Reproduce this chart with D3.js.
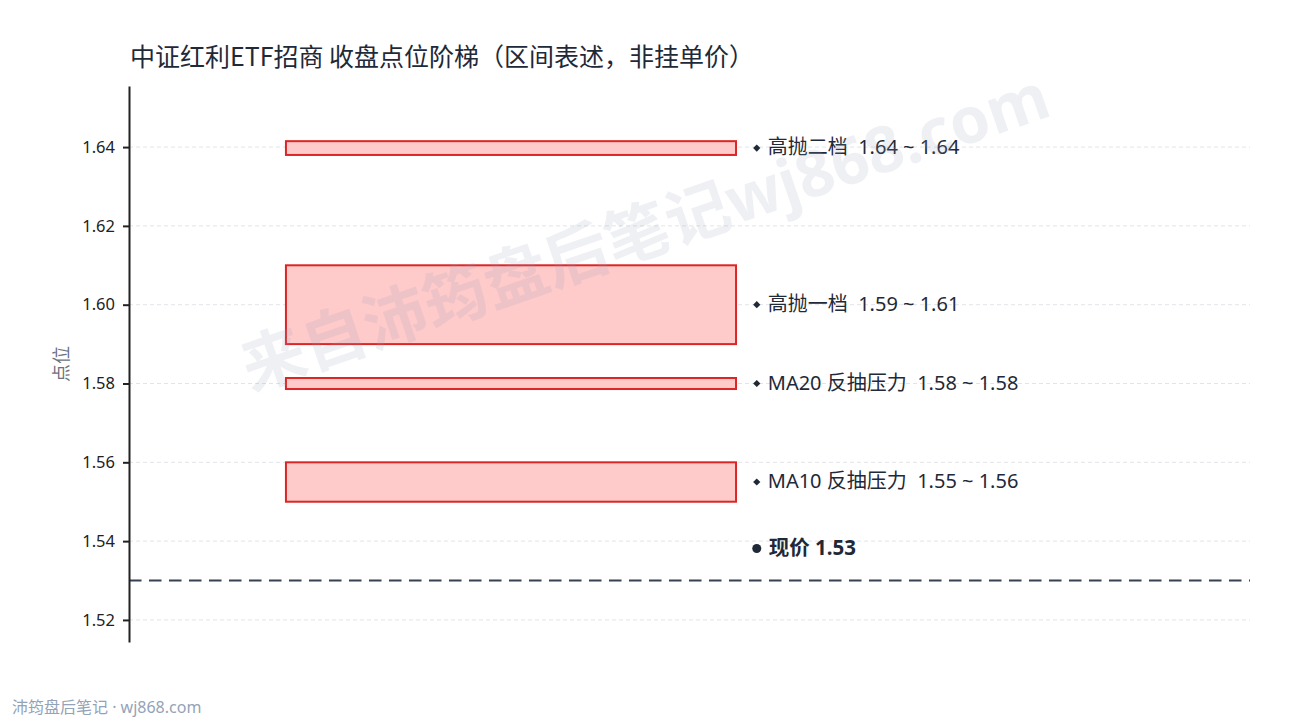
<!DOCTYPE html>
<html>
<head>
<meta charset="utf-8">
<script src="https://cdn.jsdelivr.net/npm/d3@7"></script>
<style>
  html, body { margin: 0; padding: 0; background: #fff; }
  svg { display: block; font-family: "Noto Sans", "Noto Sans CJK SC", sans-serif; }
</style>
</head>
<body>
<svg id="chart" width="1290" height="720"></svg>
<script>
(() => {

    // chart data
    const zone_names = ['高抛二档', '高抛一档', 'MA20 反抽压力', 'MA10 反抽压力'];
    const zone_low = [1.638, 1.59, 1.5786, 1.55];
    const zone_high = [1.6415, 1.61, 1.5814, 1.56];
    const current_price = 1.53;
    const y_ticks = [1.52, 1.54, 1.56, 1.58, 1.60, 1.62, 1.64];

    const title = '中证红利ETF招商 收盘点位阶梯（区间表述，非挂单价）';
    const y_label = '点位';
    const footer = '沛筠盘后笔记 · wj868.com';
    const watermark = '来自沛筠盘后笔记wj868.com';

    // layout
    const left = 129, right = 1250, top = 86, bottom = 642;
    const dark = '#1f2937';
    const mixed_font = '"Noto Sans", "Noto Sans CJK SC", sans-serif';

    let svg = d3.select('#chart');

    let x_scale = d3.scaleLinear().domain([0, 1]).range([left, right]);
    let y_scale = d3.scaleLinear().domain([1.5144, 1.6555]).range([bottom, top]);

    // grid lines
    svg.append('g')
        .selectAll('line')
        .data(y_ticks)
        .enter()
        .append('line')
        .attr('x1', left)
        .attr('x2', right)
        .attr('y1', (d) => y_scale(d))
        .attr('y2', (d) => y_scale(d))
        .attr('stroke', '#e2e4e8')
        .attr('stroke-width', 1)
        .attr('stroke-dasharray', '4,3');

    // zones
    let zones = zone_names.map((name, i) => ({ name: name, low: zone_low[i], high: zone_high[i] }));

    svg.append('g')
        .selectAll('rect')
        .data(zones)
        .enter()
        .append('rect')
        .attr('x', x_scale(0.14))
        .attr('width', x_scale(0.5415) - x_scale(0.14))
        .attr('y', (d) => y_scale(d.high))
        .attr('height', (d) => y_scale(d.low) - y_scale(d.high))
        .attr('fill', '#fecaca')
        .attr('stroke', '#dc2626')
        .attr('stroke-width', 2);

    // zone labels
    let labels = svg.append('g')
        .selectAll('g')
        .data(zones)
        .enter()
        .append('g')
        .attr('transform', (d) => `translate(${x_scale(0.56)}, ${y_scale((d.low + d.high) / 2)})`);

    labels.append('path')
        .attr('d', d3.symbol().type(d3.symbolSquare).size(26))
        .attr('transform', 'rotate(45)')
        .attr('fill', dark);

    labels.append('text')
        .attr('x', 11)
        .attr('dy', '0.3em')
        .text((d) => d.name + '\u00a0\u00a0' + d.low.toFixed(2) + ' ~ ' + d.high.toFixed(2))
        .style('fill', dark)
        .style('font-family', mixed_font)
        .style('font-size', '20px');

    // current price line
    svg.append('line')
        .attr('x1', left)
        .attr('x2', right)
        .attr('y1', y_scale(current_price))
        .attr('y2', y_scale(current_price))
        .attr('stroke', '#374151')
        .attr('stroke-width', 2)
        .attr('stroke-dasharray', '12.5,7.5');

    let price_label = svg.append('g')
        .attr('transform', `translate(${x_scale(0.56)}, ${y_scale(current_price) - 32})`);

    price_label.append('circle')
        .attr('r', 4.5)
        .attr('fill', dark);

    price_label.append('text')
        .attr('x', 12)
        .attr('dy', '0.32em')
        .text('现价 ' + current_price.toFixed(2))
        .style('fill', dark)
        .style('font-family', mixed_font)
        .style('font-size', '20.5px')
        .style('font-weight', 'bold');

    // Y axis
    let y_axis = d3.axisLeft(y_scale)
        .tickValues(y_ticks)
        .tickFormat(d3.format('.2f'))
        .tickSize(6)
        .tickSizeOuter(0)
        .tickPadding(8);

    let axis_g = svg.append('g')
        .attr('transform', `translate(${left}, 0)`)
        .call(y_axis);

    axis_g.select('.domain').attr('stroke', '#222').attr('stroke-width', 2);
    axis_g.selectAll('.tick line').attr('stroke', '#222').attr('stroke-width', 2);
    axis_g.selectAll('.tick text')
        .style('font-family', mixed_font)
        .style('font-size', '16.5px')
        .style('fill', '#222');

    svg.append('text')
        .attr('transform', `translate(68, ${(top + bottom) / 2}) rotate(-90)`)
        .attr('text-anchor', 'middle')
        .text(y_label)
        .style('fill', '#6b7280')
        .style('font-family', '"Noto Sans CJK SC", sans-serif')
        .style('font-size', '18px');

    // title
    svg.append('text')
        .attr('x', 130)
        .attr('y', 66)
        .text(title)
        .style('fill', dark)
        .style('font-family', '"Noto Sans CJK SC", sans-serif')
        .style('font-size', '25px');

    // footer
    svg.append('text')
        .attr('x', 12)
        .attr('y', 713)
        .text(footer)
        .style('fill', '#94a3b8')
        .style('font-family', mixed_font)
        .style('font-size', '16px');

    // watermark
    svg.append('text')
        .attr('transform', 'translate(645, 232) rotate(-19)')
        .attr('text-anchor', 'middle')
        .attr('dy', '0.35em')
        .text(watermark)
        .style('fill', '#94a3b8')
        .style('fill-opacity', 0.16)
        .style('font-family', mixed_font)
        .style('font-size', '64px')
        .style('font-weight', 'bold');

})();
</script>
</body>
</html>
